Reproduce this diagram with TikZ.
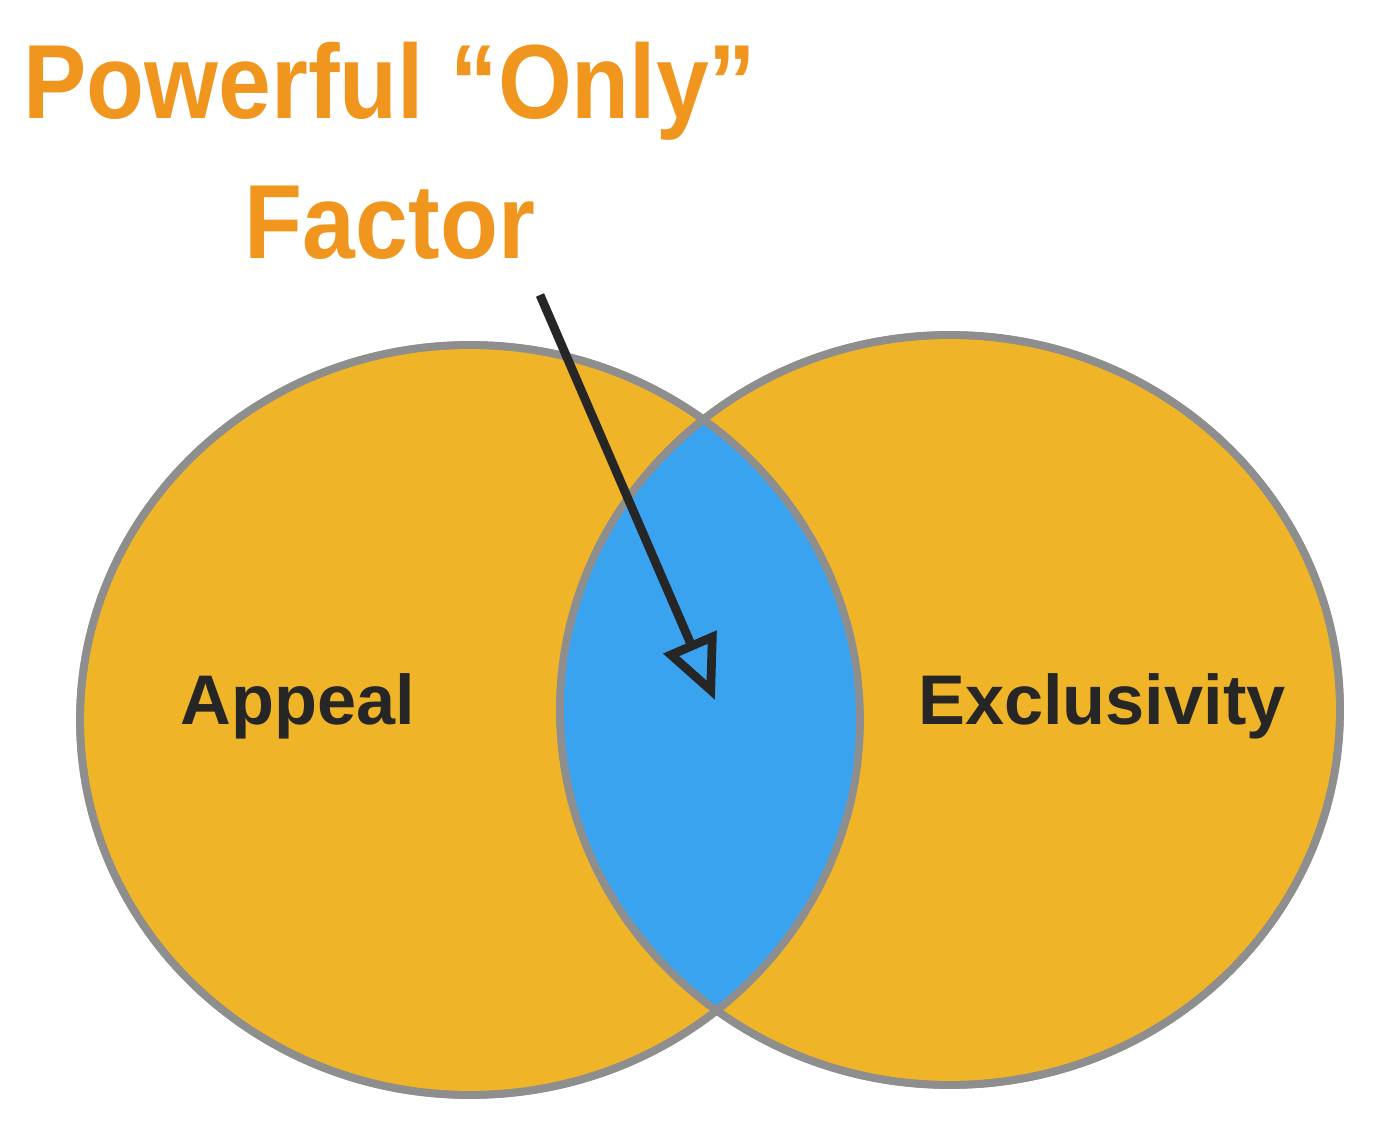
\documentclass[tikz,border=0pt]{standalone}
\usepackage{fontspec}
\setmainfont{Liberation Sans}
\usetikzlibrary{arrows.meta, shapes.geometric}
\definecolor{venngold}{HTML}{F0B428}
\definecolor{venngray}{HTML}{8E8E8E}
\definecolor{vennblue}{HTML}{3AA3F0}
\definecolor{titleorange}{HTML}{F0961E}

\begin{document}
\begin{tikzpicture}
\useasboundingbox (0,0) rectangle (14,11.26);
\tikzset{set/.style={ellipse,draw=venngray,line width=2.2pt,fill=venngold},
         tag/.style={font=\bfseries\fontsize{20}{24}\selectfont,text=black!85}}
\begin{scope}
  \node[set,minimum width=7.8cm,minimum height=7.5cm] (L) at (4.70,4.06) {};
  \node[set,minimum width=7.8cm,minimum height=7.5cm] (R) at (9.50,4.16) {};
\end{scope}
\begin{scope}
    \clip (4.70,4.06) ellipse (3.9cm and 3.75cm);
    \fill[vennblue] (9.50,4.16) ellipse (3.9cm and 3.75cm);
\end{scope}
\draw[venngray,line width=2.2pt] (4.70,4.06) ellipse (3.9cm and 3.75cm);
\draw[venngray,line width=2.2pt] (9.50,4.16) ellipse (3.9cm and 3.75cm);

\node[tag] (appeal) at (2.98,4.2) {Appeal};
\node[tag] (excl) at (11.02,4.2) {Exclusivity};

\node[text=titleorange,font=\bfseries\fontsize{30}{36}\selectfont,align=center,
      inner sep=0pt,xscale=0.9,transform shape] (title) at (3.9,9.75)
      {Powerful “Only”\\[4pt]Factor};

\coordinate (tail) at (5.40,8.31);
\coordinate (head) at (7.15,4.26);
\draw[-{Triangle[open,length=18pt,width=16pt]},line width=2.5pt,black!85] (tail) -- (head);
\end{tikzpicture}
\end{document}
